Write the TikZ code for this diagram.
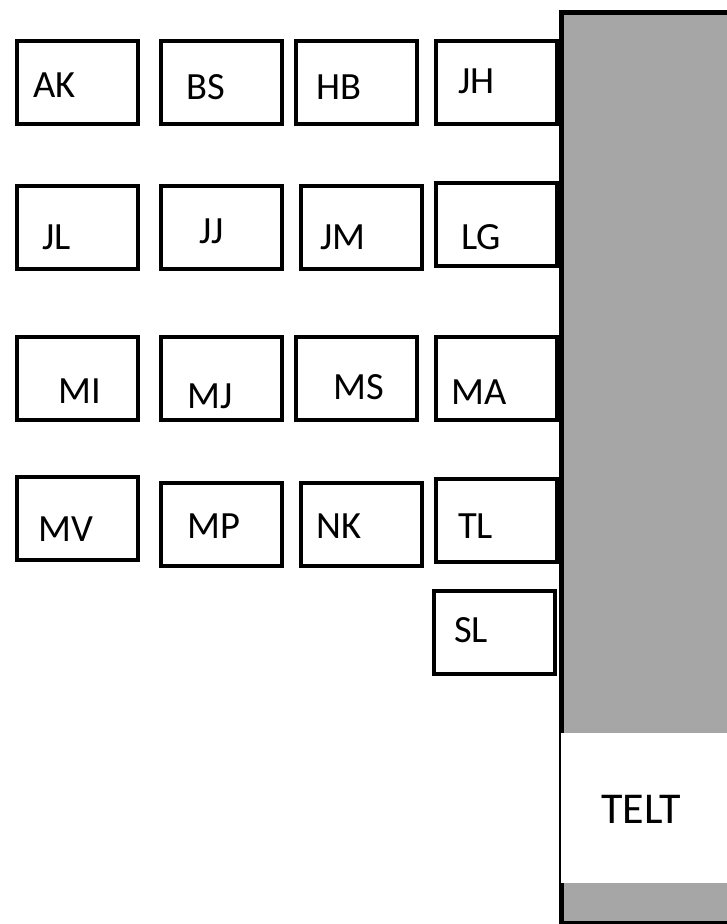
\documentclass[tikz,border=0pt]{standalone}
\usepackage{fontspec}
\setmainfont{Carlito}
\usepackage{xcolor}
\definecolor{hallgray}{HTML}{A6A6A6}

\begin{document}
\begin{tikzpicture}[x=1pt,y=-1pt,%
		   desk/.style={draw,line width=4pt,fill=white,minimum width=121pt,minimum height=83pt,inner sep=0pt},
		   tag/.style={anchor=base west,inner sep=0pt,font=\fontsize{38.5}{46}\selectfont},
		   wall/.style={draw,line width=5pt,fill=hallgray}]

	\useasboundingbox (0,0) rectangle (727,924);
	\clip (0,0) rectangle (727,924);

	% the grey block on the right with the tent opening
	\draw[wall] (561.5,12.5) rectangle (760,923.5);
	\node[fill=white,inner sep=0pt,minimum width=200pt,minimum height=150pt,anchor=north west] (opening) at (561,733) {};
	\node[anchor=base west,inner sep=0pt,font=\fontsize{44}{52}\selectfont] (TELT) at (601,823) {TELT};

	    \foreach \name/\cx/\cy/\tx/\ty in {%
	       AK/77.5/82.5/33/97, BS/221.5/82.5/186/99, HB/356.5/82.5/316/99, JH/496/82.5/458/93,%
	       JL/77.5/227.5/42/249, JJ/221.5/227.5/199/243, JM/361/227.5/320/249, LG/496/224/461/249,%
	       MI/77.5/378.5/58/403, MJ/221.5/378.5/187/408, MS/356.5/378.5/333/399, MA/496/378.5/451/404,%
	       MV/77.5/518/38/541, MP/221.5/524.5/187/538, NK/361/524.5/316/538, TL/496/520.5/458/538,%
	       SL/494.5/632/454/642%
	       } { \node[desk] (\name) at (\cx,\cy) {};
		   \node[tag] (\name-t) at (\tx,\ty) {\name};
	       }
\end{tikzpicture}
\end{document}
